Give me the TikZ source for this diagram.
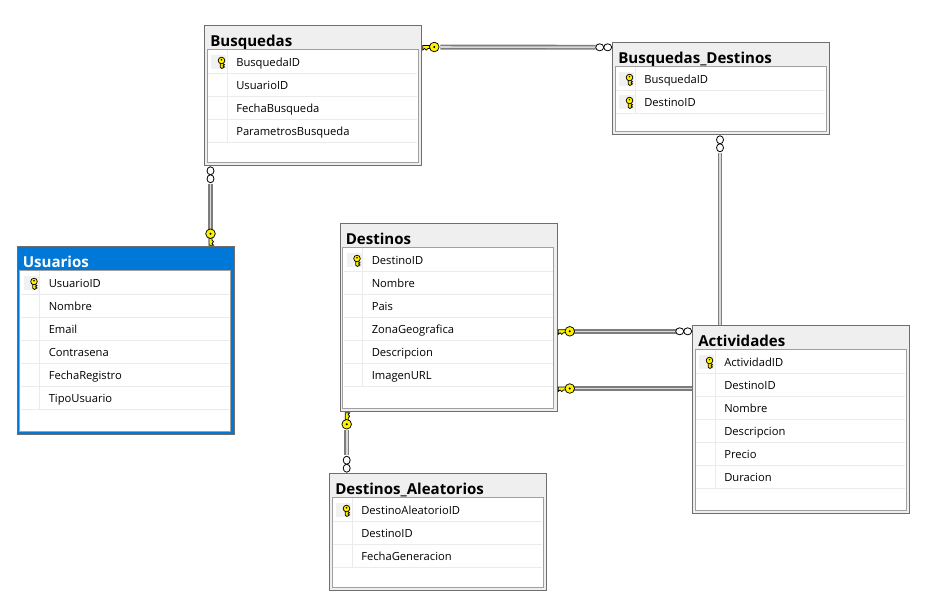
\documentclass[tikz,border=0pt]{standalone}
\usepackage{xcolor}
\usepackage{fontspec}
\setmainfont{Open Sans}
\definecolor{titlegrey}{HTML}{EFEFEF}
\definecolor{framegrey}{HTML}{6E6E6E}
\definecolor{innergrey}{HTML}{A0A0A0}
\definecolor{rowgrey}{HTML}{EBEBEB}
\definecolor{selblue}{HTML}{0078D7}
\definecolor{keyyellow}{HTML}{FFF200}
\tikzset{
  tableframe/.style={draw=framegrey,line width =0.8pt,fill=titlegrey,anchor=north west,inner sep=0pt,minimum width=162.75pt},
  tabletitle/.style={anchor=base west,inner sep=0pt,font=\fontsize{11.3}{13}\selectfont\bfseries},
  tablerow/.style={anchor=base west,inner sep=0pt,font=\fontsize{8.4}{10}\selectfont},
  tableinner/.style={draw=innergrey,line width =0.8pt,fill=white},
  rowline/.style={draw=rowgrey,line width =0.8pt},
  relline/.style={draw=framegrey!90,line width =1.25pt,double=white!85!black,double distance=1.2pt},
  keyshape/.style={draw=black,fill=keyyellow,line width =0.55pt},
  ringshape/.style={draw=black,fill=white,line width =0.6pt},
  relkey/.pic={
    \filldraw [keyshape] (-8,1.5)--(-0.5,1.5)--(-0.5,-3)--(-2.3,-1.5)--(-4,-3)--(-5.6,-1.5)--(-8,-1.5)--cycle;
    \filldraw [keyshape] (-12,0) circle(4.8);
    \fill [black] (-12,0) circle(1.1);
  },
  relmany/.pic={
    \filldraw [ringshape] (-4.5,0) ellipse(4 and 3.5);
    \filldraw [ringshape] (-12.5,0) ellipse(4 and 3.5);
  },
  rowkey/.pic={
    \filldraw [keyshape] (-1.3,1)--(-1.3,7.6)--(0.4,9)--(3,7.4)--(1.4,6.4)--(3,5.2)--(1.4,4.2)--(1.4,1)--cycle;
    \filldraw [keyshape] (0,1) circle(3.3);
    \fill [black] (0,0.2) circle(0.8);
  }
}
\newcommand{\drawtable}[7]{
  \node [tableframe,minimum height=#5*0.75pt+0.75pt,#1] (#2) at (#3-0.8,#4-0.8) {};
  \node [tabletitle] (#2title) at (#3+5,#4+21) {#6};
  \draw [tableinner] (#3+2.3,#4+23.8) rectangle (#3+213.3,#4+#5-2.8);
  \foreach \rowname [count=\i] in {#7}{
    \draw [rowline] (#3+3.3,#4+24.8+23*\i)--(#3+212.3,#4+24.8+23*\i);
    \draw [rowline] (#3+22.3,#4+24.8+23*\i-23)--(#3+22.3,#4+24.8+23*\i);
    \node [tablerow] (#2row\i) at (#3+31,#4+41+23*\i-23) {\rowname};
  }
}
\newcommand{\tablekey}[3]{
  \fill [rowgrey!70] (#1+6,#2+29+23*#3-23) rectangle (#1+21,#2+43+23*#3-23);
  \pic at (#1+16.5,#2+34+23*#3-23) {rowkey};
}
\begin{document}
\begin{tikzpicture}[x=0.75pt,y=-0.75pt]
\useasboundingbox (0,0) rectangle (946,615);

\drawtable{}{busquedas}{205}{25.5}{139.5}{Busquedas}{BusquedaID,UsuarioID,FechaBusqueda,ParametrosBusqueda}
\tablekey{205}{25.5}{1}
\begin{scope}[tabletitle/.append style={text=white}]
\drawtable{fill=selblue}{usuarios}{17.5}{246.5}{187.5}{Usuarios}{UsuarioID,Nombre,Email,Contrasena,FechaRegistro,TipoUsuario}
\end{scope}
\tablekey{17.5}{246.5}{1}
\drawtable{}{busqdest}{613}{42.5}{91.5}{Busquedas\_Destinos}{BusquedaID,DestinoID}
\tablekey{613}{42.5}{1}
\tablekey{613}{42.5}{2}
\drawtable{}{destinos}{340.5}{223.5}{187.5}{Destinos}{DestinoID,Nombre,Pais,ZonaGeografica,Descripcion,ImagenURL}
\tablekey{340.5}{223.5}{1}
\drawtable{}{aleatorios}{330}{473.5}{116.5}{Destinos\_Aleatorios}{DestinoAleatorioID,DestinoID,FechaGeneracion}
\tablekey{330}{473.5}{1}
\drawtable{}{actividades}{693}{325.5}{187.5}{Actividades}{ActividadID,DestinoID,Nombre,Descripcion,Precio,Duracion}
\tablekey{693}{325.5}{1}

\coordinate (busqUser) at ([shift={(6.3,0)}]busquedas.south west);
\coordinate (userBusq) at ([shift={(193.8,0)}]usuarios.north west);
\coordinate (busqDest) at ([shift={(0,22.3)}]busquedas.north east);
\coordinate (destBusq) at ([shift={(0,5.6)}]busqdest.north west);
\coordinate (bdActiv) at ([shift={(107.8,0)}]busqdest.south west);
\coordinate (activBd) at ([shift={(27.8,0)}]actividades.north west);
\coordinate (destActivA) at ([shift={(0,108.6)}]destinos.north east);
\coordinate (activDestA) at ([shift={(0,6.6)}]actividades.north west);
\coordinate (destActivB) at ([shift={(0,165.8)}]destinos.north east);
\coordinate (activDestB) at ([shift={(0,63.8)}]actividades.north west);
\coordinate (destAlea) at ([shift={(7,0)}]destinos.south west);
\coordinate (aleaDest) at ([shift={(17.5,0)}]aleatorios.north west);

\draw [relline,shorten <=13.5pt,shorten >=11.5pt] (busqUser)--(userBusq);
\draw [relline,shorten <=13.5pt,shorten >=12.5pt] (busqDest)--(destBusq);
\draw [relline,shorten <=13.5pt] (bdActiv)--(activBd);
\draw [relline,shorten <=12.5pt,shorten >=12.5pt] (destActivA)--(activDestA);
\draw [relline,shorten <=12.5pt] (destActivB)--(activDestB);
\draw [relline,shorten <=13.5pt,shorten >=13pt] (destAlea)--(aleaDest);

\pic [rotate=90] at (busqUser) {relmany};
\pic [rotate=-90] at (userBusq) {relkey};
\pic [rotate=180] at (busqDest) {relkey};
\pic at (destBusq) {relmany};
\pic [rotate=90] at (bdActiv) {relmany};
\pic [rotate=180] at (destActivA) {relkey};
\pic at (activDestA) {relmany};
\pic [rotate=180] at (destActivB) {relkey};
\pic [rotate=90,yscale=-1] at (destAlea) {relkey};
\pic [rotate=-90] at (aleaDest) {relmany};
\end{tikzpicture}
\end{document}
